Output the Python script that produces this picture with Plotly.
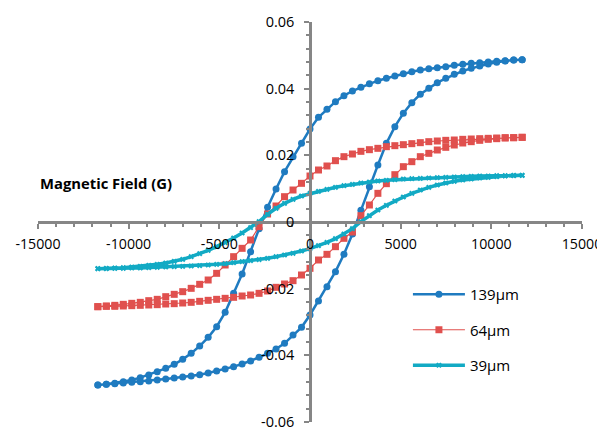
import plotly.graph_objects as go

# Magnetic field grid (G): descending branch, then ascending branch
FIELD_DOWN = [11700, 11232, 10764, 10296, 9828, 9360, 8892, 8424, 7956, 7488, 7020,
              6552, 6084, 5616, 5148, 4680, 4212, 3744, 3276, 2808, 2340, 1872, 1404,
              936, 468, 0, -468, -936, -1404, -1872, -2340, -2808, -3276, -3744, -4212,
              -4680, -5148, -5616, -6084, -6552, -7020, -7488, -7956, -8424, -8892,
              -9360, -9828, -10296, -10764, -11232, -11700]
FIELD_UP = list(reversed(FIELD_DOWN))

# 139 um
M139_DOWN = [0.0487, 0.0486, 0.0484, 0.0482, 0.0480, 0.0478, 0.0476, 0.0473, 0.0470, 0.0466,
             0.0463, 0.0460, 0.0456, 0.0451, 0.0445, 0.0438, 0.0431, 0.0424, 0.0415, 0.0404,
             0.0393, 0.0379, 0.0361, 0.0338, 0.0314, 0.0279, 0.0236, 0.0196, 0.0151, 0.0099,
             0.0044, -0.0020, -0.0089, -0.0156, -0.0214, -0.0271, -0.0314, -0.0346, -0.0372,
             -0.0394, -0.0412, -0.0427, -0.0439, -0.0449, -0.0459, -0.0467, -0.0474, -0.0479,
             -0.0484, -0.0487, -0.0489]
M139_UP = [-0.0489, -0.0487, -0.0485, -0.0483, -0.0481, -0.0479, -0.0477, -0.0474, -0.0471,
           -0.0468, -0.0465, -0.0462, -0.0458, -0.0453, -0.0447, -0.0441, -0.0434, -0.0426,
           -0.0417, -0.0406, -0.0394, -0.0381, -0.0364, -0.0339, -0.0316, -0.0279, -0.0237,
           -0.0194, -0.0149, -0.0097, -0.0036, 0.0035, 0.0106, 0.0171, 0.0236, 0.0286, 0.0326,
           0.0358, 0.0383, 0.0401, 0.0418, 0.0431, 0.0443, 0.0453, 0.0461, 0.0468, 0.0474,
           0.0479, 0.0483, 0.0486, 0.0487]

# 64 um
M64_DOWN = [0.0254, 0.0253, 0.0253, 0.0252, 0.0251, 0.0250, 0.0249, 0.0248, 0.0246, 0.0245,
            0.0243, 0.0241, 0.0238, 0.0235, 0.0232, 0.0229, 0.0226, 0.0221, 0.0217, 0.0212,
            0.0204, 0.0196, 0.0184, 0.0168, 0.0156, 0.0138, 0.0116, 0.0096, 0.0076, 0.0048,
            0.0024, -0.0014, -0.0054, -0.0079, -0.0104, -0.0129, -0.0154, -0.0174, -0.0187,
            -0.0199, -0.0209, -0.0217, -0.0224, -0.0232, -0.0236, -0.0241, -0.0244, -0.0247,
            -0.0250, -0.0252, -0.0254]
M64_UP = [-0.0254, -0.0253, -0.0253, -0.0252, -0.0251, -0.0250, -0.0249, -0.0248, -0.0246,
          -0.0245, -0.0243, -0.0241, -0.0238, -0.0235, -0.0232, -0.0229, -0.0226, -0.0222,
          -0.0219, -0.0214, -0.0207, -0.0196, -0.0186, -0.0176, -0.0159, -0.0139, -0.0114,
          -0.0097, -0.0074, -0.0049, -0.0030, 0.0019, 0.0051, 0.0086, 0.0115, 0.0142, 0.0166,
          0.0181, 0.0196, 0.0206, 0.0216, 0.0224, 0.0231, 0.0237, 0.0241, 0.0245, 0.0248,
          0.0250, 0.0252, 0.0253, 0.0254]

# 39 um
M39_DOWN = [0.0140, 0.0140, 0.0139, 0.0139, 0.0138, 0.0138, 0.0137, 0.0136, 0.0135, 0.0134,
            0.0133, 0.0132, 0.0131, 0.0130, 0.0129, 0.0127, 0.0125, 0.0123, 0.0120, 0.0117,
            0.0113, 0.0109, 0.0104, 0.0098, 0.0092, 0.0086, 0.0078, 0.0068, 0.0056, 0.0041,
            0.0023, 0.0001, -0.0017, -0.0033, -0.0048, -0.0062, -0.0074, -0.0085, -0.0095,
            -0.0104, -0.0112, -0.0118, -0.0123, -0.0127, -0.0130, -0.0133, -0.0135, -0.0137,
            -0.0138, -0.0139, -0.0140]
M39_UP = [-0.0140, -0.0140, -0.0139, -0.0139, -0.0138, -0.0138, -0.0137, -0.0136, -0.0135,
          -0.0134, -0.0133, -0.0132, -0.0131, -0.0129, -0.0127, -0.0125, -0.0122, -0.0119,
          -0.0116, -0.0113, -0.0109, -0.0104, -0.0099, -0.0094, -0.0087, -0.0080, -0.0071,
          -0.0061, -0.0050, -0.0036, -0.0020, 0.0001, 0.0019, 0.0036, 0.0050, 0.0063, 0.0075,
          0.0086, 0.0096, 0.0104, 0.0111, 0.0117, 0.0122, 0.0126, 0.0129, 0.0132, 0.0134,
          0.0136, 0.0138, 0.0139, 0.0140]

X_TICKS = [-15000, -10000, -5000, 0, 5000, 10000, 15000]
X_TICK_TEXT = ["-15000", "-10000", "-5000", "0", "5000", "10000", "15000"]
Y_TICKS = [-0.06, -0.04, -0.02, 0, 0.02, 0.04, 0.06]
Y_TICK_TEXT = ["-0.06", "-0.04", "-0.02", "0", "0.02", "0.04", "0.06"]
X_MINOR = [v for v in range(-15000, 15001, 1000)]
Y_MINOR = [round(-0.06 + 0.004 * i, 3) for i in range(31)]

BLUE = "#1f7bc0"
RED = "#e0504e"
CYAN = "#12aac4"
AXIS = "#868686"
FONT = "Open Sans"

fig = go.Figure()
fig.add_trace(go.Scatter(
    x=FIELD_DOWN + FIELD_UP, y=M139_DOWN + M139_UP, name="139µm", legendgroup="a",
    mode="lines+markers", line=dict(color=BLUE, width=2.5),
    marker=dict(symbol="circle", size=7, color=BLUE)))
fig.add_trace(go.Scatter(
    x=FIELD_DOWN + FIELD_UP, y=M64_DOWN + M64_UP, name="64µm", legendgroup="b",
    mode="lines+markers", line=dict(color=RED, width=1.2),
    marker=dict(symbol="square", size=7, color=RED)))
fig.add_trace(go.Scatter(
    x=FIELD_DOWN + FIELD_UP, y=M39_DOWN + M39_UP, name="39µm", legendgroup="c",
    mode="lines+markers", line=dict(color=CYAN, width=3.5),
    marker=dict(symbol="x", size=5, color=CYAN)))

common_x = dict(range=[-15000, 15000], anchor="free", position=0.5, showgrid=False,
                zeroline=False, fixedrange=True, automargin=False)
common_y = dict(range=[-0.06, 0.06], anchor="free", position=0.5, showgrid=False,
                zeroline=False, fixedrange=True, automargin=False)

# the page body keeps an 8px margin, so the figure is 8px smaller than the window
fig.update_layout(
    width=597, height=424,
    margin=dict(l=30, r=23, t=14, b=10, autoexpand=False),
    paper_bgcolor="white", plot_bgcolor="white",
    font=dict(family=FONT, size=15, color="#000000"),
    xaxis=dict(**common_x, showline=True, linecolor=AXIS, linewidth=2.5,
               tickmode="array", tickvals=X_TICKS, ticktext=X_TICK_TEXT,
               ticks="outside", ticklen=5, tickwidth=1.5, tickcolor=AXIS,
               ticklabelstandoff=3,
               tickfont=dict(family=FONT, size=14.2, color="#000000"),
               minor=dict(tickmode="array", tickvals=X_MINOR, ticks="outside",
                          ticklen=3, tickwidth=1.5, tickcolor=AXIS)),
    xaxis2=dict(**common_x, overlaying="x", showline=False, showticklabels=False,
                tickmode="array", tickvals=X_TICKS,
                ticks="inside", ticklen=5, tickwidth=1.5, tickcolor=AXIS,
                minor=dict(tickmode="array", tickvals=X_MINOR, ticks="inside",
                           ticklen=3, tickwidth=1.5, tickcolor=AXIS)),
    yaxis=dict(**common_y, showline=True, linecolor=AXIS, linewidth=2.5,
               tickmode="array", tickvals=Y_TICKS, ticktext=Y_TICK_TEXT,
               ticks="outside", ticklen=5, tickwidth=1.5, tickcolor=AXIS,
               ticklabelstandoff=7,
               tickfont=dict(family=FONT, size=14.5, color="#000000"),
               minor=dict(tickmode="array", tickvals=Y_MINOR, ticks="outside",
                          ticklen=3, tickwidth=1.5, tickcolor=AXIS)),
    yaxis2=dict(**common_y, overlaying="y", showline=False, showticklabels=False,
                tickmode="array", tickvals=Y_TICKS,
                ticks="inside", ticklen=5, tickwidth=1.5, tickcolor=AXIS,
                minor=dict(tickmode="array", tickvals=Y_MINOR, ticks="inside",
                           ticklen=3, tickwidth=1.5, tickcolor=AXIS)),
    legend=dict(x=0.68, y=0.36, xanchor="left", yanchor="top",
                bgcolor="rgba(0,0,0,0)", borderwidth=0,
                font=dict(family=FONT, size=15, color="#000000"),
                itemwidth=52, tracegroupgap=13, traceorder="grouped"),
    showlegend=True,
    annotations=[dict(text="<b>Magnetic Field (G)</b>", xref="paper", yref="paper",
                      x=0.0, y=1 - (183 - 22) / 400, xanchor="left", yanchor="middle",
                      showarrow=False,
                      font=dict(family=FONT, size=14.8, color="#000000"))],
)

fig.write_html("out.html")
